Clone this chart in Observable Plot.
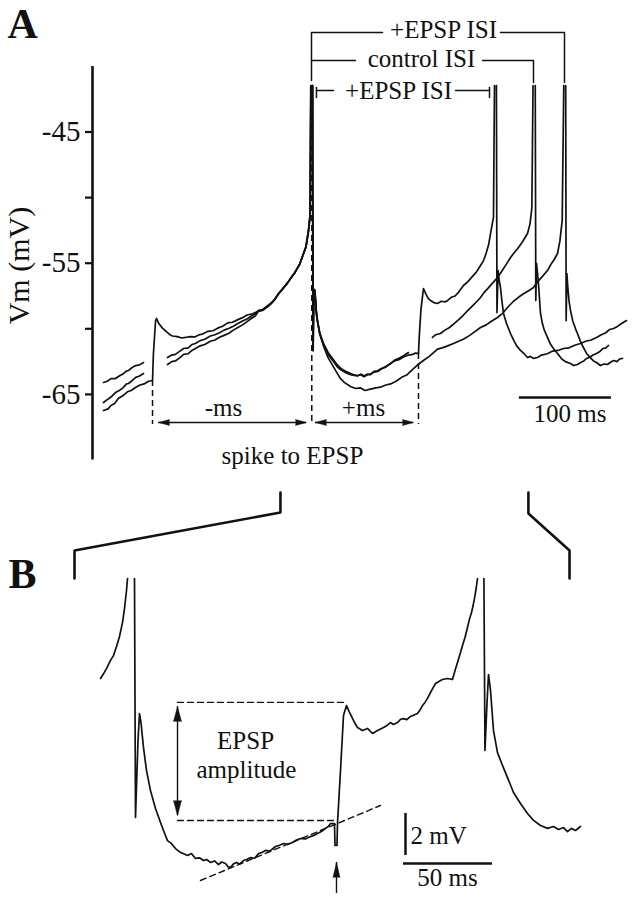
<!DOCTYPE html>
<html><head><meta charset="utf-8">
<script src="https://cdn.jsdelivr.net/npm/d3@7"></script>
<script src="https://cdn.jsdelivr.net/npm/@observablehq/plot@0.6"></script>
<style>body{margin:0;background:#fff;} #chart svg{display:block;}</style>
</head><body><div id="chart"></div>
<script>
// ---------- Panel A: scales (ms from first spike, mV) ----------
const xDomainA = [-238.04, 356.52];
const yDomainA = [-71.562, -34.977];
const yTicks = [-45, -50, -55, -60, -65];
const yTickLabels = [-45, -55, -65];
const yAxisExtent = [-70, -40];
const yAxisTitle = {t: -307.6, v: -55.18, text: "Vm (mV)"};
const panelLabelA = {t: -330.4, v: -37.8, text: "A"};

// trace with EPSP before the spike ("-ms")
const traceMinusEPSP = [
[-226.1,-66.23],[-221,-66.1],[-218,-65.85],[-214,-65.7],[-209.8,-65.3],[-205,-65.1],[-200,-64.8],[-196,-64.7],[-191.3,-64.47],[-187,-64.3],[-182,-64.2],[-177,-64.0],[-172.8,-63.94],
[-171.9,-62.0],[-169.5,-59.4],[-168.5,-59.21],[-166,-59.6],[-162,-59.95],[-158,-60.2],[-154,-60.45],[-151,-60.55],[-146,-60.6],[-141,-60.7],[-137,-60.66],[-132,-60.6],[-127,-60.62],[-122,-60.45],[-118.5,-60.4],[-113,-60.2],[-107,-60.15],[-102,-59.95],[-96.7,-59.8],[-91,-59.55],[-86,-59.5],[-80,-59.3],[-75,-59.15],[-70,-58.95],[-64,-58.85],[-59,-58.7],[-53.3,-58.6],[-48,-58.35],[-44,-58.1],[-40,-57.8],[-35.9,-57.35],[-31,-56.95],[-26,-56.5],[-22.8,-56.17],[-18,-55.7],[-13,-55.1],[-8.7,-54.3],[-6,-53.8],[-3.3,-52.6],[-1.5,-51.5],[-0.6,-41.46],[-0.6,NaN],
[1.1,-41.46],[1.6,-61.65],[2.3,-57.2],[3.5,-57.0],[5.0,-58.5],[6.5,-59.4],[9,-60.4],[13,-61.3],[18,-62.2],[23.9,-62.9],[28,-63.4],[31.5,-63.8],[36,-64.1],[42.4,-64.4],[48,-64.55],[53,-64.5],[58,-64.7],[64.1,-64.6],[70,-64.5],[75,-64.45],[80,-64.3],[85.9,-64.2],[92,-64.0],[98,-63.7],[104,-63.5],[110,-63.1],[116.3,-62.7],[122,-62.4],[128,-62.1],[133,-61.8],[137,-61.55],[142,-61.45],[148,-61.3],[155,-61.1],[160,-60.95],[165,-60.8],[172,-60.5],[178,-60.2],[183.7,-59.9],[190,-59.7],[196,-59.4],[202.2,-59.14],[208,-58.8],[214,-58.3],[219.6,-57.9],[225,-57.6],[230,-57.35],[236,-57.1],[241.3,-56.85],[246,-56.4],[251,-56.0],[256.5,-55.56],[261,-55.0],[264,-54.7],[267.4,-54.26],[270,-53.3],[272.5,-51.75],[274.2,-41.46],[274.2,NaN],
[276.3,-41.46],[276.8,-59.37],[277.6,-55.79],[278.6,-56.85],[280,-57.9],[281.5,-58.6],[284,-59.4],[287,-60.0],[289.1,-60.36],[292,-60.9],[295,-61.35],[299,-61.88],[303,-62.2],[306.5,-62.45],[309.8,-62.57],[314,-62.8],[318,-62.68],[321.7,-62.72],[325,-62.55],[328.3,-62.42],[332,-62.5],[335,-62.3],[338,-62.26]
];

// trace with EPSP after the spike ("+ms")
const tracePlusEPSP = [
[-226.1,-64.09],[-222,-64.0],[-218,-63.8],[-213,-63.79],[-209,-63.6],[-205,-63.45],[-201,-63.2],[-198.9,-63.18],[-195,-62.95],[-191,-62.8],[-187,-62.75],[-182.6,-62.57],[-182.6,NaN],
[-156.5,-62.19],[-152,-62.0],[-148,-61.95],[-143,-61.7],[-139,-61.5],[-134,-61.45],[-130,-61.2],[-126.1,-61.12],[-121,-60.9],[-116,-60.8],[-110,-60.55],[-105,-60.45],[-100,-60.3],[-95,-60.1],[-90.2,-59.98],[-85,-59.8],[-80,-59.6],[-75,-59.4],[-70,-59.25],[-65,-59.0],[-60.9,-58.83],[-57.6,-58.6],[-53.3,-58.55],[-48,-58.3],[-44,-58.05],[-40,-57.75],[-35.9,-57.31],[-31,-56.9],[-26,-56.5],[-22.8,-56.17],[-18,-55.7],[-13,-55.1],[-8.7,-54.26],[-6,-53.7],[-3.3,-52.51],[-1.5,-51.2],[-0.7,-41.46],[-0.7,NaN],
[1.1,-41.46],[1.7,-61.65],[2.5,-57.23],[3.8,-57.1],[5.3,-58.7],[6.5,-59.37],[9,-60.3],[13,-61.12],[18,-61.8],[23.9,-62.35],[28,-62.75],[31.5,-63.0],[36,-63.2],[42.4,-63.41],[46,-63.5],[50,-63.56],[54,-63.5],[57,-63.65],[61,-63.5],[64.1,-63.45],[68,-63.3],[72,-63.25],[75,-63.1],[80,-62.9],[85.9,-62.65],[90,-62.45],[95,-62.35],[100,-62.15],[105.4,-62.0],[110,-61.95],[113,-61.85],[116.3,-61.88],[117.2,-60.5],[119,-58.5],[121.7,-56.93],[124,-57.3],[127,-57.7],[129.3,-57.84],[133,-58.0],[137,-58.07],[141,-57.9],[145,-57.95],[148,-57.84],[152,-57.6],[156,-57.5],[160,-57.2],[165.2,-56.7],[170,-56.4],[175,-56.0],[179,-55.7],[183.7,-55.18],[187,-54.8],[190,-54.2],[192.5,-53.6],[194.6,-52.74],[196.5,-52.0],[197.8,-51.5],[198.9,-41.46],[198.9,NaN],
[201.0,-41.46],[201.6,-58.76],[202.8,-55.56],[204,-56.3],[205.4,-56.85],[207,-57.9],[208.7,-58.83],[212,-59.6],[216.3,-60.36],[220,-60.9],[223,-61.3],[227.2,-61.65],[231,-61.9],[234.8,-62.19],[238,-62.1],[241,-62.25],[245.7,-62.19],[250,-62.0],[256.5,-61.9],[262,-61.7],[268,-61.65],[273.9,-61.5],[280,-61.45],[286,-61.25],[292.4,-61.12],[298,-60.95],[304,-60.85],[309.8,-60.66],[315,-60.45],[320,-60.3],[324,-60.05],[328.3,-59.98],[333,-59.8],[337,-59.6],[342.4,-59.37]
];

// control trace
const traceControl = [
[-226.1,-65.62],[-222,-65.4],[-218,-65.2],[-213,-64.86],[-209,-64.7],[-205,-64.5],[-201,-64.2],[-198.9,-64.17],[-195,-63.95],[-191,-63.7],[-187,-63.6],[-182.6,-63.41],[-182.6,NaN],
[-156.5,-62.72],[-152,-62.5],[-148,-62.45],[-143,-62.2],[-139,-61.95],[-134,-61.9],[-130,-61.65],[-126.1,-61.5],[-121,-61.3],[-116,-61.2],[-110,-60.95],[-105,-60.85],[-100,-60.65],[-95,-60.5],[-90.2,-60.36],[-85,-60.1],[-80,-59.9],[-75,-59.7],[-70,-59.45],[-65,-59.2],[-60.9,-59.0],[-57.6,-58.65],[-53.3,-58.55],[-48,-58.25],[-44,-58.05],[-40,-57.75],[-35.9,-57.35],[-31,-56.95],[-26,-56.5],[-22.8,-56.17],[-18,-55.7],[-13,-55.1],[-8.7,-54.26],[-6,-53.75],[-3.3,-52.51],[-1.5,-51.3],[-0.8,-41.46],[-0.8,NaN],
[1.2,-41.46],[1.8,-61.65],[2.6,-57.23],[3.8,-57.3],[5.3,-58.9],[6.5,-59.45],[9,-60.4],[13,-61.2],[18,-61.95],[23.9,-62.5],[28,-62.9],[31.5,-63.1],[36,-63.3],[42.4,-63.5],[46,-63.55],[50,-63.6],[54,-63.45],[57,-63.6],[61,-63.45],[64.1,-63.5],[68,-63.25],[72,-63.2],[75,-63.05],[80,-62.95],[85.9,-62.65],[90,-62.4],[95,-62.25],[100,-62.05],[105.4,-61.81],[105.4,NaN],
[131.5,-60.66],[135,-60.45],[140.2,-60.36],[145,-60.1],[150,-59.9],[155,-59.6],[160,-59.3],[165.2,-58.95],[170,-58.6],[175,-58.25],[180,-57.9],[183.7,-57.61],[188,-57.2],[192,-56.9],[197,-56.5],[202.2,-56.09],[207,-55.6],[212,-55.05],[216,-54.6],[219.6,-54.26],[224,-53.9],[229,-53.4],[234.8,-52.74],[237.5,-52.0],[239.5,-50.8],[240.8,-41.46],[240.8,NaN],
[243.2,-41.46],[243.8,-57.84],[244.6,-55.02],[246,-56.0],[247,-56.85],[248.9,-58.83],[251,-59.6],[253,-60.1],[256.5,-60.66],[260,-61.2],[264,-61.6],[267.4,-61.88],[272,-62.3],[276,-62.5],[281.5,-62.65],[285,-62.8],[289.1,-62.72],[293,-62.55],[296,-62.45],[299,-62.26],[303,-62.15],[306,-62.0],[309.8,-61.88],[313,-61.75],[317,-61.5],[320,-61.45],[322.8,-61.27]
];

// annotations, panel A
const dashedA = [
  {t: -172.8, v1: -63.94, v2: -67.3},
  {t: 0.3, v1: -41.46, v2: -67.3},
  {t: 116.3, v1: -61.88, v2: -67.3}
];
const intervalArrowsA = [
  {t1: -166.3, t2: -5.4, v: -67.14},
  {t1: 4.3, t2: 110.9, v: -67.14}
];
const intervalLabelsA = [
  {t: -95.7, v: -66.68, text: "-ms"},
  {t: 56.5, v: -66.68, text: "+ms"},
  {t: -20.7, v: -70.27, text: "spike to EPSP"}
];
const isiBracketLines = [
  ["longA",0,-41.07],["longA",0,-37.42],["longA",77.2,-37.42],
  ["longB",205.4,-37.42],["longB",275,-37.42],["longB",275,-41.23],
  ["ctrlA",0,-39.55],["ctrlA",47.8,-39.55],
  ["ctrlB",185.9,-39.55],["ctrlB",241.3,-39.55],["ctrlB",241.3,-41.23],
  ["shortCapA",5.4,-41.61],["shortCapA",5.4,-42.37],
  ["shortA",5.4,-41.84],["shortA",23.9,-41.84],
  ["shortB",156.5,-41.84],["shortB",193.5,-41.84],
  ["shortCapB",193.5,-41.61],["shortCapB",193.5,-42.37]
];
const isiLabels = [
  {t: 143.5, v: -37.87, text: "+EPSP ISI"},
  {t: 119.6, v: -40.01, text: "control ISI"},
  {t: 94.6, v: -42.52, text: "+EPSP ISI"}
];
const timeBarA = {t1: 226, t2: 326, v: -65.24};
const timeBarLabelA = {t: 281, v: -67.14, text: "100 ms"};

// ---------- Panel B ----------
const xDomainB = [-75.28, 283.71];
const yDomainB = [-65.333, -45.333];
const panelLabelB = {t: -70.8, v: -50.43, text: "B"};
const traceB = [
[-19.10,-54.76],[-17.5,-54.55],[-15.73,-54.29],[-13.48,-53.90],[-11.80,-53.67],[-10.11,-53.24],[-8.43,-52.76],[-6.74,-52.10],[-5.62,-51.43],[-4.49,-50.57],[-3.93,-50.00],[-3.93,NaN],
[0.00,-50.00],[0.56,-61.38],[1.97,-57.71],[2.81,-56.43],[3.65,-56.86],[5.06,-58.05],[6.74,-59.14],[8.99,-60.10],[11.80,-60.95],[14.61,-61.62],[16.5,-62.05],[18.54,-62.48],[20.5,-62.6],[23.03,-62.86],[26,-63.05],[29.78,-63.19],[32,-63.1],[34.27,-63.33],[36.5,-63.3],[38.76,-63.43],[40.5,-63.38],[42.70,-63.52],[45,-63.45],[47.19,-63.62],[49,-63.5],[51.12,-63.57],[52.5,-63.72],[53.93,-63.76],[55.5,-63.6],[57.30,-63.52],[59,-63.6],[61.24,-63.43],[63,-63.38],[65.17,-63.29],[67.5,-63.32],[69.66,-63.10],[71.5,-63.05],[73.60,-62.95],[76,-62.98],[79.21,-62.76],[81.5,-62.7],[83.71,-62.62],[86,-62.66],[88.76,-62.57],[91,-62.45],[93.26,-62.38],[96,-62.4],[98.88,-62.29],[101,-62.22],[102.81,-62.14],[105,-62.05],[107.30,-61.90],[109,-61.8],[110.11,-61.67],[112.36,-61.67],[112.64,-62.71],[113.76,-62.71],[114.04,-61.67],[115.73,-59.14],[117.42,-56.52],[119.10,-56.05],[120.79,-56.38],[123.03,-56.76],[125.28,-57.10],[128.09,-57.24],[130.90,-57.14],[133.71,-57.38],[136.52,-57.24],[139.89,-57.10],[141.5,-57.02],[143.82,-56.86],[145.5,-56.95],[147.75,-56.86],[149.5,-56.7],[151.12,-56.67],[153,-56.72],[155.06,-56.57],[157,-56.5],[158.99,-56.43],[160.5,-56.25],[161.80,-56.05],[163.2,-55.9],[164.61,-55.71],[166.29,-55.43],[167.8,-55.2],[169.10,-55.00],[171,-54.9],[173.03,-54.81],[175.8,-54.76],[178.65,-54.81],[180,-54.4],[181.46,-54.00],[182.9,-53.6],[184.27,-53.19],[185.7,-52.8],[187.08,-52.33],[188.3,-51.9],[189.33,-51.62],[190.2,-51.3],[191.01,-50.95],[191.9,-50.5],[192.70,-50.00],[192.70,NaN],
[196.3,-50.00],[196.9,-58.19],[198.0,-56.0],[198.88,-54.57],[200.0,-55.33],[201.69,-57.24],[203.93,-58.29],[206.74,-58.90],[209.55,-59.48],[212.92,-60.19],[216.85,-60.71],[220.79,-61.19],[224.16,-61.52],[228.09,-61.76],[232.02,-61.90],[235.39,-61.81],[238.20,-61.95],[241.01,-61.86],[243.26,-62.05],[245.51,-61.90],[247.75,-62.00],[250.56,-61.81]
];
const zoomBrackets = [
  ["left",-33.7,-50],["left",-33.7,-48.667],["left",82.0,-46.857],["left",82.0,-45.905],
  ["right",221.3,-45.905],["right",221.3,-46.905],["right",244.4,-48.667],["right",244.4,-50]
];
const amplitudeGuides = [
  ["peak",24.16,-55.90],["peak",118.54,-55.90],
  ["base",24.16,-61.52],["base",111.80,-61.52],
  ["slope",37.08,-64.38],["slope",138.20,-60.81]
];
const amplitudeArrow = {t: 24.16, v1: -56.10, v2: -61.29};
const stimArrow = {t: 113.48, v1: -65.0, v2: -63.52};
const amplitudeLabels = [
  {t: 62.4, v: -58.10, text: "EPSP"},
  {t: 62.9, v: -59.48, text: "amplitude"}
];
const scaleBarB = {t: 152.25, v1: -61.19, v2: -63.19, t1: 151.12, t2: 201.12, vH: -63.57};
const voltScaleLabelB = {t: 155.06, v: -62.62, text: "2 mV"};
const timeScaleLabelB = {t: 175.84, v: -64.62, text: "50 ms"};

// ---------- rendering ----------
const rows = arr => arr.map(([t, v]) => ({t, v}));
const zrows = arr => arr.map(([id, t, v]) => ({id, t, v}));
const font = "'Liberation Serif', 'DejaVu Serif', serif";
const ink = "#111";
const head = (data, x, y, rotate, length, r) =>
  Plot.vector(data, {x, y, rotate, length, r, anchor: "end", shape: "spike", fill: ink, stroke: ink, strokeWidth: 0.5});

const traceStyle = {x: "t", y: "v", stroke: ink, strokeWidth: 1.7, strokeLinejoin: "round"};

const plotA = Plot.plot({
  width: 639, height: 480,
  marginLeft: 92, marginRight: 0, marginTop: 0, marginBottom: 0,
  style: {fontFamily: font, fontSize: "29px", background: "white", color: ink},
  x: {domain: xDomainA, axis: null},
  y: {domain: yDomainA},
  marks: [
    Plot.ruleX([xDomainA[0]], {y1: yAxisExtent[0], y2: yAxisExtent[1], stroke: ink, strokeWidth: 2.6}),
    Plot.axisY(yTicks, {anchor: "left", tickSize: 7, tickPadding: 5, strokeWidth: 2.2, fontSize: 29, label: null,
      tickFormat: d => yTickLabels.includes(d) ? "-" + Math.abs(d) : ""}),
    Plot.text([yAxisTitle], {x: "t", y: "v", text: "text", rotate: -90, textAnchor: "middle", lineAnchor: "bottom", fontSize: 30}),
    Plot.text([panelLabelA], {x: "t", y: "v", text: "text", textAnchor: "start", lineAnchor: "bottom", fontSize: 42, fontWeight: "bold"}),
    Plot.line(rows(traceMinusEPSP), traceStyle),
    Plot.line(rows(tracePlusEPSP), traceStyle),
    Plot.line(rows(traceControl), traceStyle),
    Plot.ruleX(dashedA, {x: "t", y1: "v1", y2: "v2", stroke: ink, strokeWidth: 1.5, strokeDasharray: "6,4"}),
    Plot.ruleY(intervalArrowsA, {y: "v", x1: "t1", x2: "t2", stroke: ink, strokeWidth: 1.3}),
    head(intervalArrowsA, "t1", "v", -90, 11, 3),
    head(intervalArrowsA, "t2", "v", 90, 11, 3),
    Plot.text(intervalLabelsA, {x: "t", y: "v", text: "text", textAnchor: "middle", lineAnchor: "bottom", fontSize: 25}),
    Plot.line(zrows(isiBracketLines), {x: "t", y: "v", z: "id", stroke: ink, strokeWidth: 1.5}),
    Plot.text(isiLabels, {x: "t", y: "v", text: "text", textAnchor: "middle", lineAnchor: "bottom", fontSize: 25}),
    Plot.ruleY([timeBarA], {y: "v", x1: "t1", x2: "t2", stroke: ink, strokeWidth: 2.5}),
    Plot.text([timeBarLabelA], {x: "t", y: "v", text: "text", textAnchor: "middle", lineAnchor: "bottom", fontSize: 25})
  ]
});

const plotB = Plot.plot({
  width: 639, height: 420,
  margin: 0,
  style: {fontFamily: font, fontSize: "25px", background: "white", color: ink},
  x: {domain: xDomainB, axis: null},
  y: {domain: yDomainB, axis: null},
  marks: [
    Plot.text([panelLabelB], {x: "t", y: "v", text: "text", textAnchor: "start", lineAnchor: "bottom", fontSize: 42, fontWeight: "bold"}),
    Plot.line(zrows(zoomBrackets), {x: "t", y: "v", z: "id", stroke: ink, strokeWidth: 2.6, strokeLinejoin: "miter"}),
    Plot.line(rows(traceB), traceStyle),
    Plot.line(zrows(amplitudeGuides), {x: "t", y: "v", z: "id", stroke: ink, strokeWidth: 1.4, strokeDasharray: "6,4"}),
    Plot.ruleX([amplitudeArrow], {x: "t", y1: "v1", y2: "v2", stroke: ink, strokeWidth: 1.4}),
    head([amplitudeArrow], "t", "v1", 0, 15, 4),
    head([amplitudeArrow], "t", "v2", 180, 15, 4),
    Plot.ruleX([stimArrow], {x: "t", y1: "v1", y2: "v2", stroke: ink, strokeWidth: 1.4}),
    head([stimArrow], "t", "v2", 0, 15, 3.5),
    Plot.text(amplitudeLabels, {x: "t", y: "v", text: "text", textAnchor: "middle", lineAnchor: "bottom", fontSize: 25}),
    Plot.ruleX([scaleBarB], {x: "t", y1: "v1", y2: "v2", stroke: ink, strokeWidth: 2.5}),
    Plot.ruleY([scaleBarB], {y: "vH", x1: "t1", x2: "t2", stroke: ink, strokeWidth: 2.5}),
    Plot.text([voltScaleLabelB], {x: "t", y: "v", text: "text", textAnchor: "start", lineAnchor: "bottom", fontSize: 25}),
    Plot.text([timeScaleLabelB], {x: "t", y: "v", text: "text", textAnchor: "middle", lineAnchor: "bottom", fontSize: 25})
  ]
});

const chart = document.getElementById("chart");
chart.append(plotA, plotB);
</script></body></html>
